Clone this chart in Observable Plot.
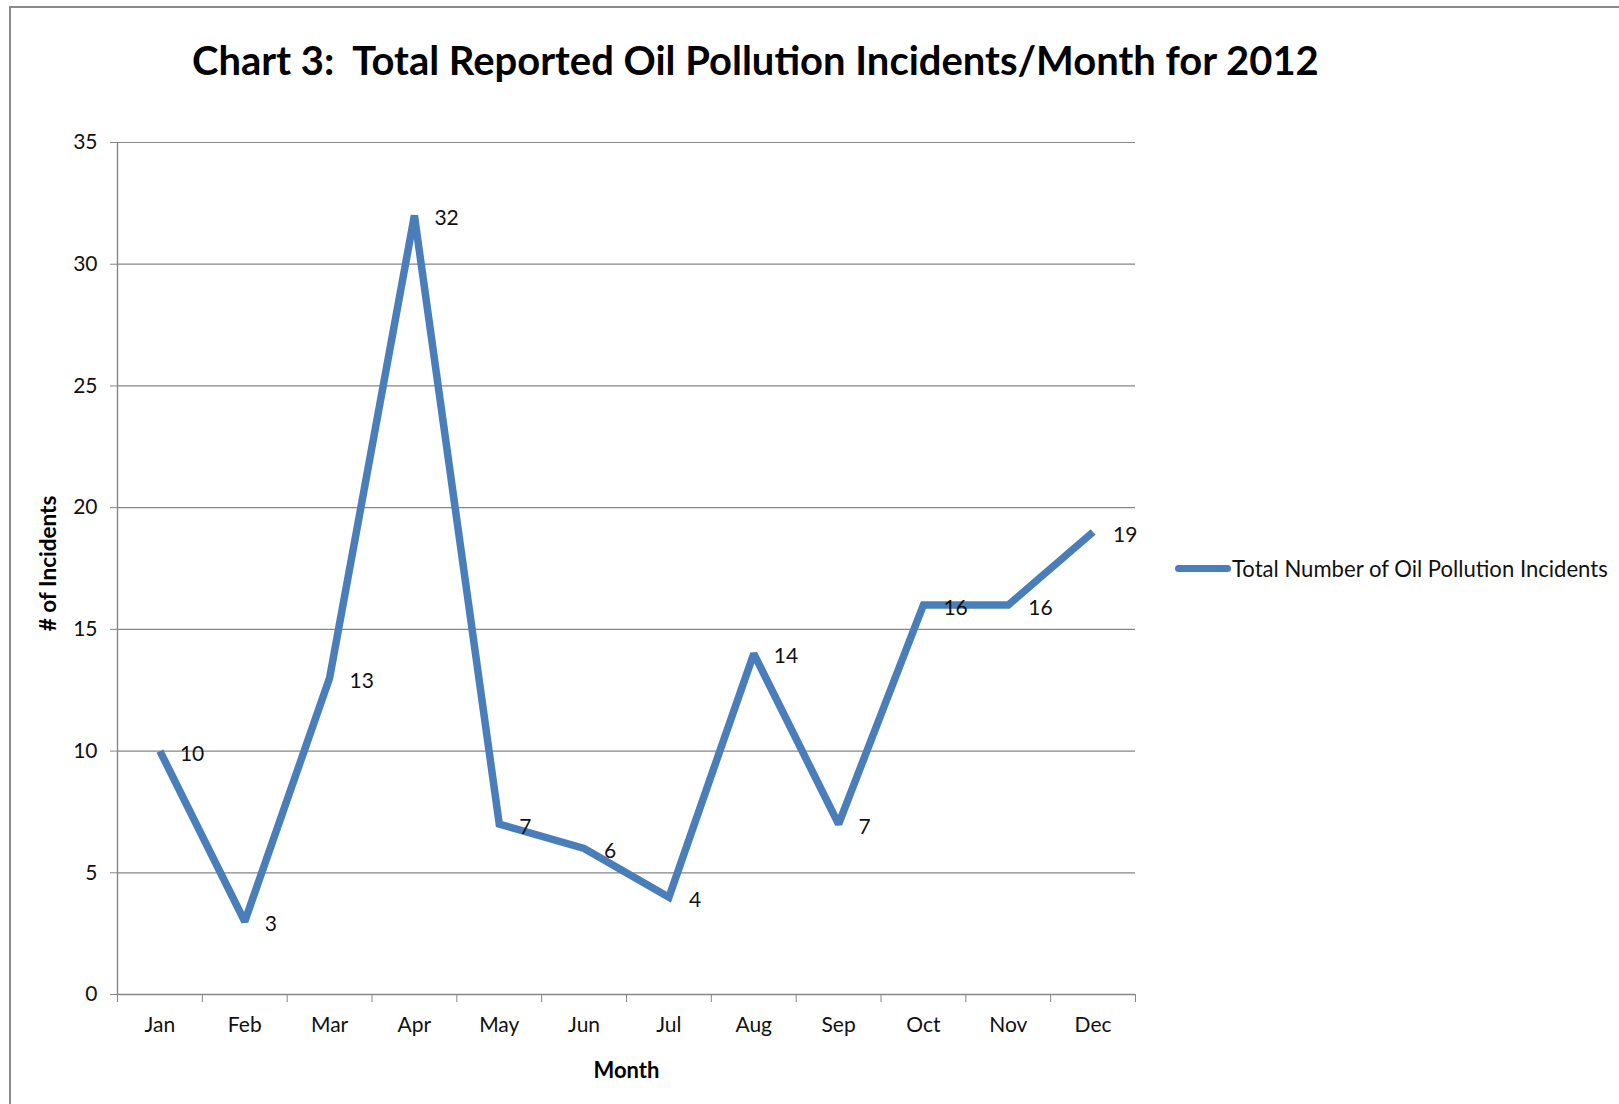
<!DOCTYPE html>
<html>
<head>
<meta charset="utf-8">
<script src="https://cdn.jsdelivr.net/npm/d3@7"></script>
<script src="https://cdn.jsdelivr.net/npm/@observablehq/plot@0.6"></script>
<style>
  html, body { margin: 0; padding: 0; background: #fff; overflow: hidden; }
  body { width: 1619px; height: 1104px; position: relative; font-family: Lato, "Open Sans", sans-serif; color: #111; }
  #frame { position: absolute; left: 9px; top: 6px; width: 1700px; height: 1200px;
           border-left: 2.5px solid #8a8a8a; border-top: 2.5px solid #8a8a8a; box-sizing: border-box; }
  #title { position: absolute; left: 192px; top: 41px; font-weight: 700; font-size: 38px;
           line-height: 1; white-space: nowrap; color: #000; }
  #chart { position: absolute; left: 0; top: 100px; }
  #legend { position: absolute; left: 1175px; top: 555px; display: flex; align-items: center; }
  #legend .swatch { width: 56px; height: 7.5px; border-radius: 4px; background: #4A7EBB; }
  #legend .name { font-size: 20px; white-space: nowrap; color: #111; margin-left: 1px; }
</style>
</head>
<body>
<div id="frame"></div>
<div id="title"></div>
<div id="chart"></div>
<div id="legend"><div class="swatch"></div><span class="name"></span></div>
<script>
// Monthly counts of reported oil pollution incidents, 2012
const months = ["Jan", "Feb", "Mar", "Apr", "May", "Jun", "Jul", "Aug", "Sep", "Oct", "Nov", "Dec"];
const incidents = [10, 3, 13, 32, 7, 6, 4, 14, 7, 16, 16, 19];
const yTicks = [0, 5, 10, 15, 20, 25, 30, 35];
const seriesName = "Total Number of Oil Pollution Incidents";
const titleText = "Chart 3:  Total Reported Oil Pollution Incidents/Month for 2012";

const lineColor = "#4A7EBB";
const gridColor = "#868686";
const font = "Lato, 'Open Sans', sans-serif";

// one row per month; the category slots run 0..12, each point sits mid-slot
const data = months.map((m, i) => ({month: m, slot: i + 0.5, value: incidents[i]}));
const slotEdges = d3.range(months.length + 1);

const chart = Plot.plot({
  width: 1619,
  height: 1004,
  marginLeft: 117,
  marginRight: 484,
  marginTop: 42,
  marginBottom: 110,
  x: {type: "linear", domain: [0, months.length]},
  y: {domain: [0, 35]},
  style: {fontFamily: font, fontSize: "21px", color: "#111", background: "transparent", overflow: "visible"},
  marks: [
    Plot.gridY(yTicks.filter(t => t > 0), {stroke: gridColor, strokeOpacity: 1, strokeWidth: 1.2}),
    Plot.ruleY([0], {stroke: gridColor, strokeWidth: 1.4}),
    Plot.ruleX([0], {stroke: gridColor, strokeWidth: 1.4}),
    Plot.axisY({ticks: yTicks, tickSize: 7, tickPadding: 13, stroke: gridColor, fill: "#111",
                fontSize: 21, label: null}),
    Plot.axisX({ticks: slotEdges, tickSize: 8, tickFormat: () => "", stroke: gridColor, label: null}),
    Plot.axisX({ticks: data.map(d => d.slot), tickSize: 0, tickPadding: 23,
                tickFormat: v => months[Math.floor(v)], fill: "#111", fontSize: 21, label: null}),
    Plot.text(["Month"], {frameAnchor: "bottom", textAnchor: "middle", dy: 83,
                          fontWeight: "bold", fontSize: 22, fill: "#000"}),
    Plot.text(["# of Incidents"], {frameAnchor: "left", textAnchor: "middle", dx: -69, dy: -5, rotate: -90,
                                   fontWeight: "bold", fontSize: 22.5, fill: "#000"}),
    Plot.lineY(data, {x: "slot", y: "value", stroke: lineColor, strokeWidth: 7.5,
                      strokeLinecap: "butt", strokeLinejoin: "miter", strokeMiterlimit: 2}),
    Plot.text(data, {x: "slot", y: "value", text: d => String(d.value), textAnchor: "start",
                     dx: 20, dy: 3, fontSize: 21, fill: "#111"})
  ]
});
document.getElementById("chart").append(chart);

// title and legend text, sized to their allotted widths
const title = document.getElementById("title");
title.textContent = titleText;
title.style.whiteSpace = "pre";
const tw = title.getBoundingClientRect().width;
title.style.fontSize = (38 * 1127 / tw) + "px";

const legendName = document.querySelector("#legend .name");
legendName.textContent = seriesName;
const lw = legendName.getBoundingClientRect().width;
legendName.style.fontSize = (20 * 376 / lw) + "px";
</script>
</body>
</html>
